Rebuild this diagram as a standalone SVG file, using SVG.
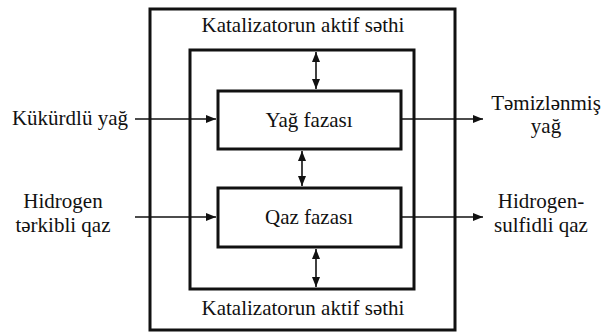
<svg xmlns="http://www.w3.org/2000/svg" width="604" height="332" viewBox="0 0 604 332">
<style>
.box{fill:none;stroke:#111;stroke-width:3}
.ln{fill:none;stroke:#111;stroke-width:1.6}
.t{font-family:"Liberation Serif","Times New Roman",serif;font-size:21px;fill:#111}
.c{text-anchor:middle}
</style>
<defs>
<marker id="ah" viewBox="0 0 10 10" refX="10" refY="5" markerWidth="10" markerHeight="10" markerUnits="userSpaceOnUse" orient="auto-start-reverse">
<path d="M0,1 L10,5 L0,9 Z" fill="#111"/>
</marker>
</defs>
<rect width="604" height="332" fill="#fff"/>
<g id="outer">
<rect class="box" x="150" y="9" width="305" height="321"/>
<text class="t c" x="303" y="32">Katalizatorun aktif səthi</text>
<text class="t c" x="303" y="315">Katalizatorun aktif səthi</text>
</g>
<g id="middle">
<rect class="box" x="190" y="50" width="224" height="239"/>
</g>
<g id="yag">
<rect class="box" x="218" y="91" width="183" height="58"/>
<text class="t c" x="309" y="127">Yağ fazası</text>
</g>
<g id="qaz">
<rect class="box" x="218" y="188" width="183" height="59"/>
<text class="t c" x="309" y="224">Qaz fazası</text>
</g>
<g id="labels">
<text class="t" x="128" y="125" text-anchor="end">Kükürdlü yağ</text>
<text class="t c" x="63" y="208">Hidrogen</text>
<text class="t c" x="63" y="232">tərkibli qaz</text>
<text class="t c" x="546" y="110">Təmizlənmiş</text>
<text class="t c" x="546" y="133">yağ</text>
<text class="t c" x="541" y="208">Hidrogen-</text>
<text class="t c" x="541" y="232">sulfidli qaz</text>
</g>
<g id="connectors">
<line class="ln" x1="135" y1="119" x2="216" y2="119" marker-end="url(#ah)"/>
<line class="ln" x1="135" y1="217" x2="216" y2="217" marker-end="url(#ah)"/>
<line class="ln" x1="402" y1="119" x2="483" y2="119" marker-end="url(#ah)"/>
<line class="ln" x1="402" y1="217" x2="483" y2="217" marker-end="url(#ah)"/>
<line class="ln" x1="316" y1="52" x2="316" y2="89" marker-start="url(#ah)" marker-end="url(#ah)"/>
<line class="ln" x1="302" y1="151" x2="302" y2="186" marker-start="url(#ah)" marker-end="url(#ah)"/>
<line class="ln" x1="316" y1="249" x2="316" y2="287" marker-start="url(#ah)" marker-end="url(#ah)"/>
</g>
</svg>
